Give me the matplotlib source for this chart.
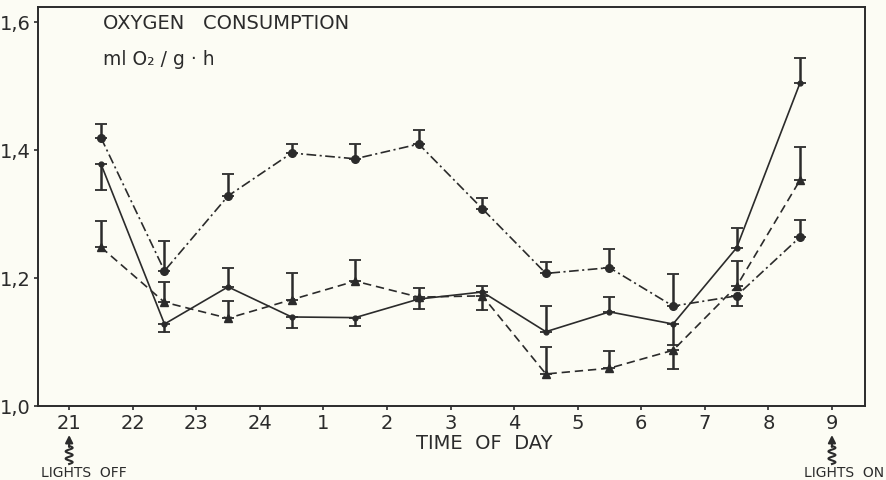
import numpy as np
import matplotlib
matplotlib.use("Agg")
import matplotlib.pyplot as plt
from matplotlib.transforms import blended_transform_factory

# hours on the axis, 21 h (lights off) to 9 h (lights on)
hour_labels = ["21", "22", "23", "24", "1", "2", "3", "4", "5", "6", "7", "8", "9"]
# measurements are taken at the half hour
half_hours = [0.5, 1.5, 2.5, 3.5, 4.5, 5.5, 6.5, 7.5, 8.5, 9.5, 10.5, 11.5]

# solid line, small dots
solid_vals = [1.378, 1.128, 1.186, 1.139, 1.138, 1.167, 1.178, 1.116, 1.147, 1.128, 1.247, 1.505]
solid_err = [-0.040, -0.012, 0.030, -0.017, -0.013, -0.015, 0.010, 0.040, 0.023, -0.033, 0.031, 0.039]

# dashed line, triangles
dashed_vals = [1.248, 1.162, 1.137, 1.166, 1.195, 1.170, 1.172, 1.050, 1.059, 1.087, 1.187, 1.353]
dashed_err = [0.041, 0.032, 0.027, 0.042, 0.033, 0.014, -0.022, 0.042, 0.027, -0.029, 0.040, 0.052]

# dash-dot line, big dots
dashdot_vals = [1.419, 1.211, 1.328, 1.395, 1.386, 1.409, 1.308, 1.207, 1.216, 1.156, 1.172, 1.264]
dashdot_err = [0.021, 0.047, 0.035, 0.014, 0.023, 0.022, 0.017, 0.018, 0.029, 0.050, -0.016, 0.026]

ink = "#2b2b2b"
paper = "#fcfcf4"

plt.rcParams["font.family"] = "DejaVu Sans"
plt.rcParams["lines.scale_dashes"] = False

fig = plt.figure(figsize=(8.86, 4.81), dpi=100)
fig.patch.set_facecolor(paper)
W, H = 886, 481
ax = fig.add_axes([38 / W, (H - 407) / H, 827 / W, 399 / H])
ax.set_facecolor(paper)


def split_err(err):
    err = np.array(err)
    lo = np.where(err < 0, -err, 0)
    hi = np.where(err > 0, err, 0)
    return [lo, hi]


series = [
    (solid_vals, solid_err, "-", "o", 3.5),
    (dashed_vals, dashed_err, (0, (6, 3.5)), "^", 6),
    (dashdot_vals, dashdot_err, (0, (7, 2.5, 1.5, 2.5)), "o", 5.5),
]
for vals, err, ls, mk, ms in series:
    ax.plot(half_hours, vals, color=ink, lw=1.2, ls=ls, marker=mk, ms=ms,
            mfc=ink, mec=ink, zorder=3)
    ax.errorbar(half_hours, vals, yerr=split_err(err), fmt="none", ecolor=ink,
                elinewidth=1.8, capsize=4, capthick=1.3, zorder=3)

ax.set_xlim(-0.49, 12.52)
ax.set_ylim(1.0, 1.623)
ax.set_xticks(range(13))
ax.set_xticklabels(hour_labels)
ax.set_yticks([1.0, 1.2, 1.4, 1.6])
ax.set_yticklabels(["1,0", "1,2", "1,4", "1,6"])
ax.tick_params(axis="both", direction="out", length=3, width=1.2, color=ink,
               labelsize=14, labelcolor=ink, pad=2)
for s in ax.spines.values():
    s.set_color(ink)
    s.set_linewidth(1.4)

ax.text(0.079, 0.96, "OXYGEN   CONSUMPTION", transform=ax.transAxes,
        fontsize=14, color=ink, va="center", ha="left")
ax.text(0.079, 0.87, "ml O₂ / g · h", transform=ax.transAxes,
        fontsize=13.5, color=ink, va="center", ha="left")
ax.text(0.539, -0.092, "TIME  OF  DAY", transform=ax.transAxes,
        fontsize=14, color=ink, va="center", ha="center")

# "lights off / on" markers with squiggly arrows
tr = blended_transform_factory(ax.transData, ax.transAxes)
px_x = 1 / 63.6
px_y = 1 / 399
for xpos, label, lx, ha in [(0, "LIGHTS  OFF", -0.45, "left"), (12, "LIGHTS  ON", 12.82, "right")]:
    t = np.linspace(0, 1, 80)
    sx = xpos + 3.5 * px_x * np.sin(t * 2.5 * 2 * np.pi)
    sy = -(40 + 18 * t) * px_y
    ax.plot(sx, sy, color=ink, lw=1.5, transform=tr, clip_on=False)
    ax.annotate("", xy=(xpos, -29 * px_y), xytext=(xpos, -41 * px_y),
                xycoords=tr, textcoords=tr,
                arrowprops=dict(arrowstyle="-|>", color=ink, lw=1.5,
                                mutation_scale=11, shrinkA=0, shrinkB=0))
    ax.text(lx, -66 * px_y, label, transform=tr, fontsize=10, color=ink,
            va="center", ha=ha)

fig.savefig("out.png", dpi=100, facecolor=paper)
